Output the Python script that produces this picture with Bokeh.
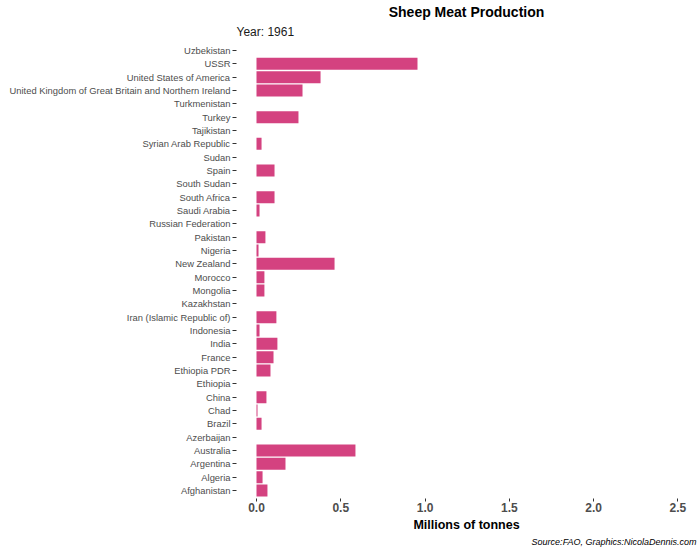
from bokeh.plotting import figure
from bokeh.models import FactorRange, Range1d, Title, FixedTicker, NumeralTickFormatter
from bokeh.embed import file_html
from bokeh.resources import INLINE

nan = float("nan")

countries = [
    "Afghanistan", "Algeria", "Argentina", "Australia", "Azerbaijan", "Brazil",
    "Chad", "China", "Ethiopia", "Ethiopia PDR", "France", "India", "Indonesia",
    "Iran (Islamic Republic of)", "Kazakhstan", "Mongolia", "Morocco",
    "New Zealand", "Nigeria", "Pakistan", "Russian Federation", "Saudi Arabia",
    "South Africa", "South Sudan", "Spain", "Sudan", "Syrian Arab Republic",
    "Tajikistan", "Turkey", "Turkmenistan",
    "United Kingdom of Great Britain and Northern Ireland",
    "United States of America", "USSR", "Uzbekistan",
]
production = [
    0.065, 0.036, 0.172, 0.587, nan, 0.030,
    0.006, 0.059, nan, 0.083, 0.101, 0.124, 0.018,
    0.118, nan, 0.047, 0.047,
    0.463, 0.012, 0.053, nan, 0.018,
    0.107, nan, 0.107, nan, 0.030,
    nan, 0.249, nan,
    0.273,
    0.380, 0.955, nan,
]
x_ticks = [0.0, 0.5, 1.0, 1.5, 2.0, 2.5]
title_text = "Sheep Meat Production"
subtitle_text = "Year: 1961"
x_title = "Millions of tonnes"
source_text = "Source:FAO, Graphics:NicolaDennis.com"

FONT = "Liberation Sans"

p = figure(
    width=700, height=550,
    y_range=FactorRange(factors=countries, range_padding=0.1, range_padding_units="absolute"),
    x_range=Range1d(-0.1186, 2.610),
    output_backend="svg", toolbar_location=None,
    min_border_left=236, min_border_right=4, min_border_top=42, min_border_bottom=52,
)
p.title = None
p.outline_line_color = None
p.background_fill_color = "white"
p.border_fill_color = "white"
p.xgrid.grid_line_color = None
p.ygrid.grid_line_color = None

p.hbar(y=countries, right=production, left=0, height=0.9,
       fill_color="#D44280", line_color=None)

# y axis
ya = p.yaxis[0]
ya.axis_line_color = None
ya.major_tick_line_color = "#333333"
ya.major_tick_out = 4
ya.major_tick_in = 0
ya.major_label_standoff = 2
ya.major_label_text_font = FONT
ya.major_label_text_font_size = "9.4px"
ya.major_label_text_color = "#4d4d4d"

# x axis
xa = p.xaxis[0]
xa.ticker = FixedTicker(ticks=x_ticks)
xa.formatter = NumeralTickFormatter(format="0.0")
xa.axis_line_color = None
xa.major_tick_line_color = "#333333"
xa.major_tick_out = 3
xa.major_tick_in = 0
xa.minor_tick_line_color = None
xa.major_label_standoff = 1
xa.major_label_text_font = FONT
xa.major_label_text_font_size = "12px"
xa.major_label_text_font_style = "bold"
xa.major_label_text_color = "#4d4d4d"
xa.axis_label = x_title
xa.axis_label_text_font = FONT
xa.axis_label_text_font_size = "12.5px"
xa.axis_label_text_font_style = "bold"
xa.axis_label_text_color = "black"
xa.axis_label_standoff = 3

sub = Title(text=subtitle_text, align="left", text_font=FONT, text_font_size="12px",
            text_font_style="normal", text_color="#1a1a1a", standoff=7)
main = Title(text=title_text, align="center", text_font=FONT, text_font_size="14px",
             text_font_style="bold", text_color="black", standoff=0, offset=-2)
p.add_layout(sub, "above")
p.add_layout(main, "above")

src = Title(text=source_text, align="right", text_font=FONT, text_font_size="9px",
            text_font_style="italic", text_color="black", standoff=0)
p.add_layout(src, "below")

open("out.html", "w").write(file_html(p, INLINE))
